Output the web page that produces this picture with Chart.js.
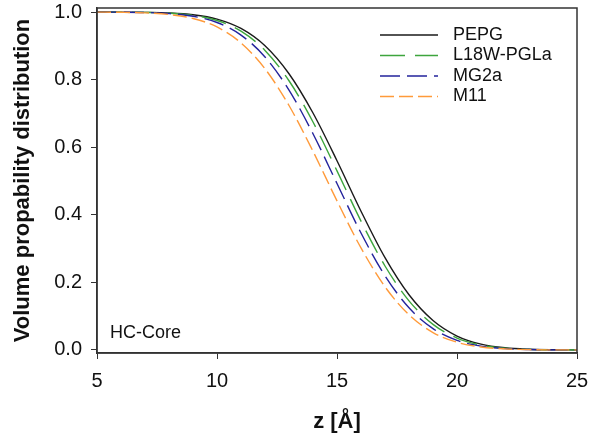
<!DOCTYPE html>
<html>
<head>
<meta charset="utf-8">
<script src="https://cdn.jsdelivr.net/npm/chart.js@4"></script>
<style>
  html, body { margin: 0; padding: 0; background: #fff; }
  #wrap { width: 589px; height: 441px; position: relative; }
</style>
</head>
<body>
<div id="wrap"><canvas id="probChart"></canvas></div>
<script>
// z positions [Å]
const zValues = [5, 6, 7, 8, 9, 10, 11, 12, 13, 14, 15, 16, 17, 18, 19, 20, 21, 22, 23, 24, 25];

// volume probability
const pepg = [1.000, 0.9998, 0.9992, 0.9974, 0.9921, 0.9793, 0.9515, 0.9003, 0.8175, 0.7013, 0.560,
              0.4106, 0.2730, 0.1633, 0.0872, 0.0413, 0.0173, 0.0064, 0.0021, 0.0006, 0.0001];
const l18wPgla = [0.9999, 0.9997, 0.9990, 0.9967, 0.9904, 0.9751, 0.9435, 0.8865, 0.7967, 0.6747, 0.530,
                  0.3813, 0.2485, 0.1453, 0.0758, 0.0351, 0.0143, 0.0051, 0.0016, 0.0005, 0.0001];
const mg2a = [0.9999, 0.9996, 0.9987, 0.9956, 0.9876, 0.9691, 0.9319, 0.8672, 0.7691, 0.6399, 0.4925,
              0.346, 0.2195, 0.1249, 0.0632, 0.0283, 0.0112, 0.0039, 0.0012, 0.0003, 0.0001];
const m11 = [0.9998, 0.9993, 0.9976, 0.9927, 0.981, 0.9558, 0.9088, 0.8322, 0.7234, 0.5879, 0.4412,
             0.302, 0.187, 0.104, 0.0516, 0.0228, 0.0089, 0.0031, 0.0009, 0.0003, 0.0001];

const yTicks = [0, 0.2, 0.4, 0.6, 0.8, 1.0];
const xTicks = [5, 10, 15, 20, 25];

const series = [
    { label: 'PEPG', values: pepg, color: '#1a1a1a', dash: [] },
    { label: 'L18W-PGLa', values: l18wPgla, color: '#3da53d', dash: [25, 10] },
    { label: 'MG2a', values: mg2a, color: '#23239c', dash: [20, 7] },
    { label: 'M11', values: m11, color: '#ff9a3a', dash: [14, 5] }
];

const FONT = "'Liberation Sans', Arial, sans-serif";

// frame around plot + legend + panel label
const decorPlugin = {
    id: 'decor',
    afterDraw(chart) {
        const ctx = chart.ctx;
        const a = chart.chartArea;
        ctx.save();
        ctx.strokeStyle = '#333';
        ctx.lineWidth = 1.5;
        ctx.strokeRect(a.left, a.top, a.right - a.left, a.bottom - a.top);

        ctx.font = '18px ' + FONT;
        ctx.textBaseline = 'middle';
        ctx.fillStyle = '#111';
        series.forEach((s, i) => {
            const y = 35 + i * 20.5;
            ctx.beginPath();
            ctx.setLineDash(s.dash);
            ctx.strokeStyle = s.color;
            ctx.lineWidth = 1.4;
            ctx.moveTo(380, y);
            ctx.lineTo(438, y);
            ctx.stroke();
            ctx.setLineDash([]);
            ctx.fillText(s.label, 453, y);
        });

        ctx.fillText('HC-Core', 110, 333);
        ctx.restore();
    }
};

new Chart(document.getElementById('probChart').getContext('2d'), {
    type: 'line',
    data: {
        // drawn back to front so PEPG ends up on top
        datasets: series.slice().reverse().map(s => ({
            label: s.label,
            data: zValues.map((z, i) => ({ x: z, y: s.values[i] })),
            borderColor: s.color,
            borderDash: s.dash,
            borderWidth: 1.4,
            pointRadius: 0,
            fill: false,
            cubicInterpolationMode: 'monotone'
        }))
    },
    options: {
        responsive: true,
        maintainAspectRatio: false,
        animation: false,
        layout: { padding: { top: 8, right: 12, left: 0, bottom: 0 } },
        plugins: {
            legend: { display: false },
            tooltip: { enabled: false }
        },
        scales: {
            x: {
                type: 'linear',
                min: 5,
                max: 25,
                afterBuildTicks: (scale) => { scale.ticks = xTicks.map(v => ({ value: v })); },
                afterFit: (scale) => {
                    scale.height = 88;
                    scale.paddingLeft = 0;
                    scale.paddingRight = 0;
                },
                grid: { drawOnChartArea: false, drawTicks: true, tickLength: 6, color: '#333' },
                border: { display: true, color: '#333', width: 1.5 },
                ticks: {
                    padding: 10,
                    color: '#111',
                    font: { family: FONT, size: 20 },
                    maxRotation: 0,
                    callback: (v) => String(v)
                },
                title: {
                    display: true,
                    text: 'z [Å]',
                    color: '#111',
                    font: { family: FONT, size: 22, weight: 'bold' },
                    padding: { top: 0, bottom: 6 }
                }
            },
            y: {
                type: 'linear',
                min: -0.009,
                max: 1.012,
                afterBuildTicks: (scale) => { scale.ticks = yTicks.map(v => ({ value: v })); },
                afterFit: (scale) => {
                    scale.width = 97;
                    scale.paddingTop = 0;
                    scale.paddingBottom = 0;
                },
                grid: { drawOnChartArea: false, drawTicks: true, tickLength: 6, color: '#333' },
                border: { display: true, color: '#333', width: 1.5 },
                ticks: {
                    padding: 9,
                    color: '#111',
                    font: { family: FONT, size: 20 },
                    callback: (v) => Number(v).toFixed(1)
                },
                title: {
                    display: true,
                    text: 'Volume propability distribution',
                    color: '#111',
                    font: { family: FONT, size: 22, weight: 'bold' },
                    padding: { top: 10, bottom: 0 }
                }
            }
        }
    },
    plugins: [decorPlugin]
});
</script>
</body>
</html>
